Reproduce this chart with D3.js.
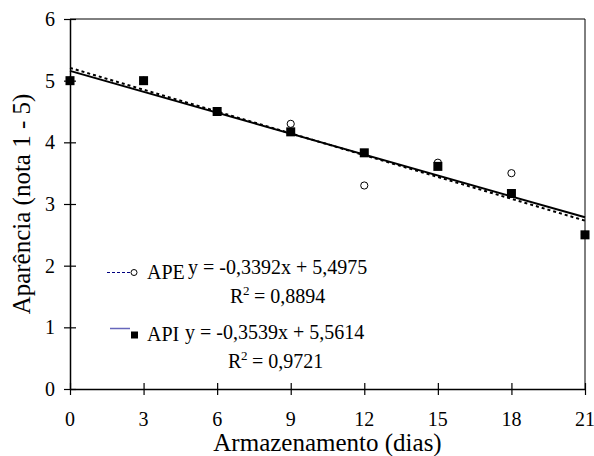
<!DOCTYPE html>
<html>
<head>
<meta charset="utf-8">
<script src="https://cdn.jsdelivr.net/npm/d3@7"></script>
</head>
<body style="margin:0;background:#fff">
<script>
// data
var days = [0, 3, 6, 9, 12, 15, 18, 21];
var ape = [5, 5, 4.5, 4.3, 3.3, 3.67, 3.5, 2.5];
var api = [5, 5, 4.5, 4.17, 3.83, 3.61, 3.17, 2.5];
var xTicks = [0, 3, 6, 9, 12, 15, 18, 21];
var yTicks = [0, 1, 2, 3, 4, 5, 6];

// trend lines as given in the legend (x = sample number 1..8)
var apeFit = { slope: -0.3392, intercept: 5.4975, r2: '0,8894', label: 'y = -0,3392x + 5,4975' };
var apiFit = { slope: -0.3539, intercept: 5.5614, r2: '0,9721', label: 'y = -0,3539x + 5,5614' };

var width = 594;
var height = 456;
// note: "top" is reserved on window, so use a plot box object
var plot = { left: 70, right: 585, top: 19, bottom: 389 };

var svg = d3.select('body').append('svg')
  .attr('width', width)
  .attr('height', height);

var x = d3.scaleLinear().domain([0, 21]).range([plot.left, plot.right]);
var y = d3.scaleLinear().domain([0, 6]).range([plot.bottom, plot.top]);

// every label gets the serif face on itself
var addText = function (parent, str, size) {
  return parent.append('text')
    .attr('font-family', function () { return 'Liberation Serif'; })
    .attr('font-size', size)
    .attr('fill', '#000')
    .text(str);
};

// frame top + right
svg.append('path')
  .attr('d', 'M' + plot.left + ',' + plot.top + 'H' + plot.right + 'V' + plot.bottom)
  .attr('fill', 'none')
  .attr('stroke', '#000')
  .attr('stroke-width', 1);

// x axis: line and cross ticks from the axis, labels drawn by hand
var xAxis = svg.append('g')
  .attr('transform', 'translate(0,' + plot.bottom + ')')
  .call(d3.axisBottom(x).tickValues(xTicks).tickFormat('').tickSizeOuter(0));
xAxis.select('.domain').attr('stroke-width', 1.5);
xAxis.selectAll('.tick line').attr('y1', -6).attr('y2', 6).attr('stroke-width', 1.2);
xAxis.selectAll('.tick text').remove();

var yAxis = svg.append('g')
  .attr('transform', 'translate(' + plot.left + ',0)')
  .call(d3.axisLeft(y).tickValues(yTicks).tickFormat('').tickSizeOuter(0));
yAxis.select('.domain').attr('stroke-width', 1.5);
yAxis.selectAll('.tick line').attr('x1', -6).attr('x2', 6).attr('stroke-width', 1.2);
yAxis.selectAll('.tick text').remove();

xTicks.forEach(function (d) {
  addText(svg, String(d), 20)
    .attr('x', x(d)).attr('y', plot.bottom + 37)
    .attr('text-anchor', 'middle');
});
yTicks.forEach(function (d) {
  addText(svg, String(d), 20)
    .attr('x', plot.left - 15).attr('y', y(d) + 7)
    .attr('text-anchor', 'end');
});

// axis titles
addText(svg, 'Armazenamento (dias)', 25)
  .attr('x', (plot.left + plot.right) / 2)
  .attr('y', 451)
  .attr('text-anchor', 'middle');

addText(svg, 'Aparência (nota 1 - 5)', 25)
  .attr('transform', 'translate(30,' + ((plot.top + plot.bottom) / 2) + ') rotate(-90)')
  .attr('text-anchor', 'middle');

// trend lines over the day range
var fitLine = function (fit) {
  return [0, 21].map(function (d) {
    return [x(d), y(fit.intercept + fit.slope * (d / 3 + 1))];
  });
};

svg.append('path')
  .attr('d', d3.line()(fitLine(apiFit)))
  .attr('stroke', '#000')
  .attr('stroke-width', 2)
  .attr('stroke-dasharray', '3,3')
  .attr('fill', 'none');

svg.append('path')
  .attr('d', d3.line()(fitLine(apeFit)))
  .attr('stroke', '#000')
  .attr('stroke-width', 2)
  .attr('fill', 'none');

// APE open circles
svg.selectAll('circle.ape').data(ape)
  .enter()
  .append('circle')
  .attr('class', 'ape')
  .attr('cx', function (d, i) { return x(days[i]); })
  .attr('cy', function (d) { return y(d); })
  .attr('r', 3.6)
  .attr('fill', '#fff')
  .attr('stroke', '#000')
  .attr('stroke-width', 1);

// API filled squares
var s = 9;
svg.selectAll('rect.api').data(api)
  .enter()
  .append('rect')
  .attr('class', 'api')
  .attr('x', function (d, i) { return x(days[i]) - s / 2; })
  .attr('y', function (d) { return y(d) - s / 2; })
  .attr('width', s)
  .attr('height', s)
  .attr('fill', '#000');

// legend
svg.append('line')
  .attr('x1', 107).attr('x2', 130).attr('y1', 272.5).attr('y2', 272.5)
  .attr('stroke', '#000080')
  .attr('stroke-width', 1.2)
  .attr('stroke-dasharray', '3,2');
svg.append('circle')
  .attr('cx', 134).attr('cy', 272.5).attr('r', 3)
  .attr('fill', '#fff').attr('stroke', '#000').attr('stroke-width', 1);
addText(svg, 'APE', 20).attr('x', 147).attr('y', 279);

svg.append('line')
  .attr('x1', 110).attr('x2', 130).attr('y1', 328.5).attr('y2', 328.5)
  .attr('stroke', '#6666bb')
  .attr('stroke-width', 1.5);
svg.append('rect')
  .attr('x', 131).attr('y', 331.5).attr('width', 7).attr('height', 7)
  .attr('fill', '#000');
addText(svg, 'API', 20).attr('x', 147).attr('y', 341);

var eqs = [
  { fit: apeFit, x: 188, y: 274, rx: 230, ry: 303 },
  { fit: apiFit, x: 185, y: 339, rx: 228, ry: 368 }
];
eqs.forEach(function (e) {
  addText(svg, e.fit.label, 20).attr('x', e.x).attr('y', e.y);
  addText(svg, 'R', 20).attr('x', e.rx).attr('y', e.ry);
  addText(svg, '2', 13).attr('x', e.rx + 13).attr('y', e.ry - 8);
  addText(svg, '= ' + e.fit.r2, 20).attr('x', e.rx + 24).attr('y', e.ry);
});
</script>
</body>
</html>
